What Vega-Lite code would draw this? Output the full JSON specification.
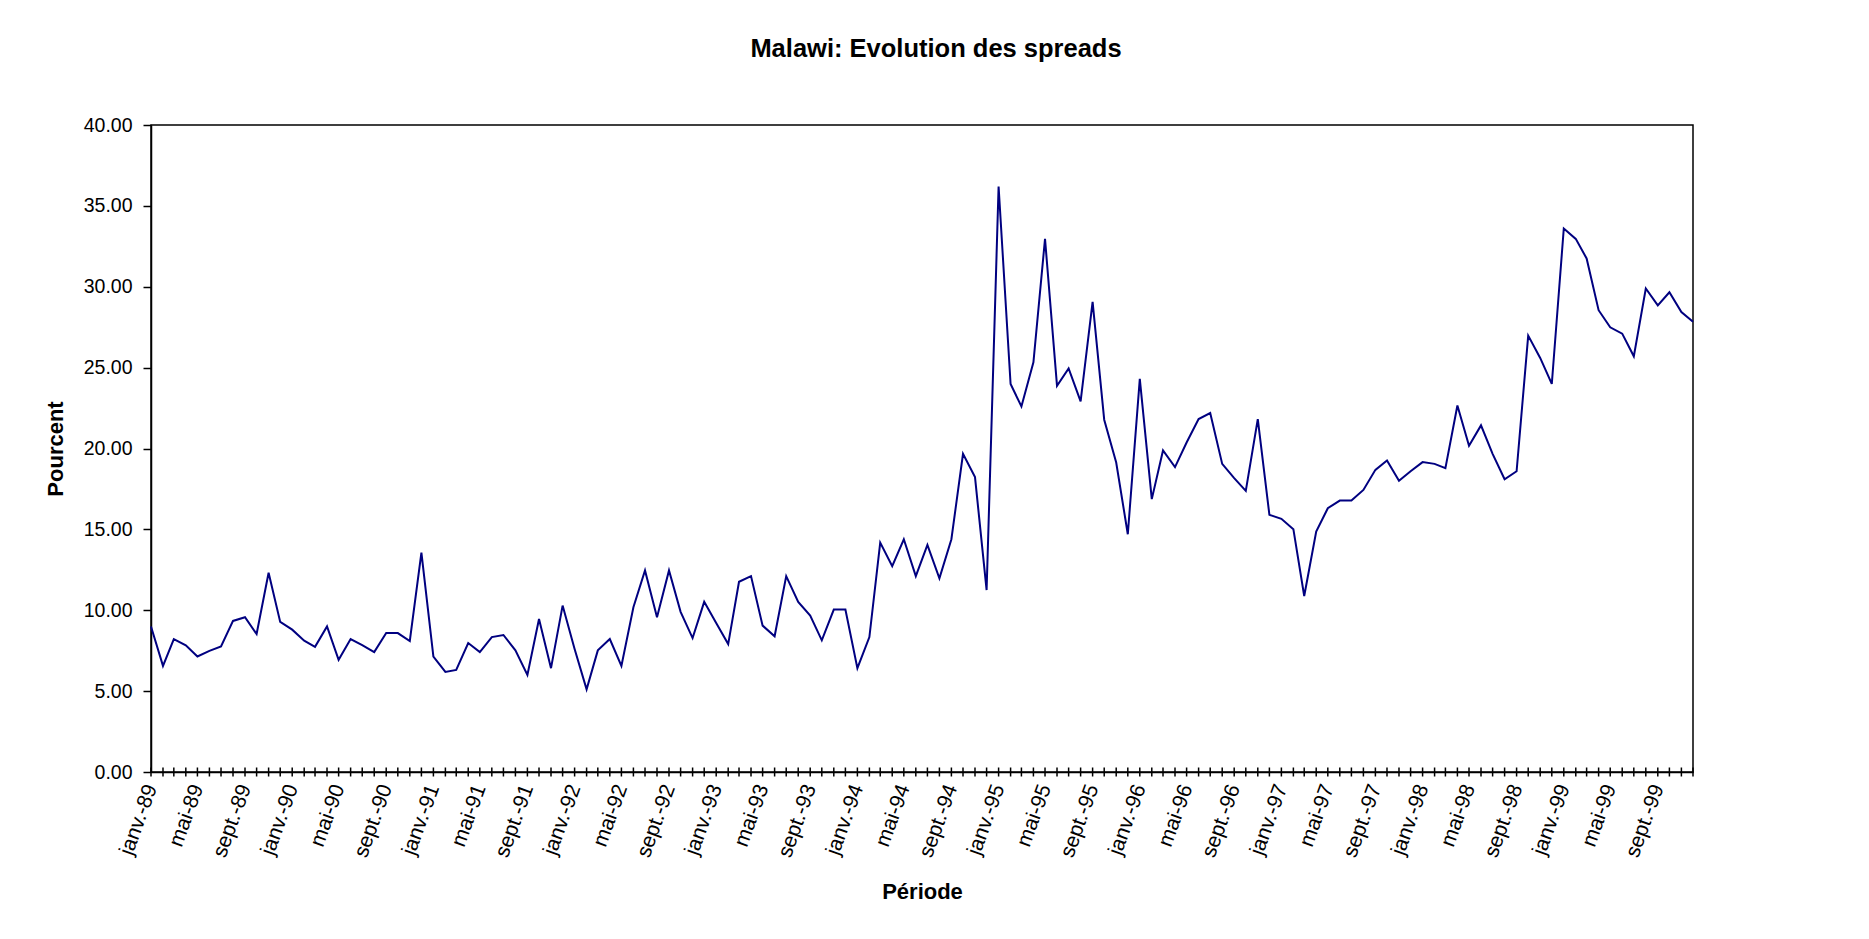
{
  "$schema": "https://vega.github.io/schema/vega-lite/v6.json",
  "width": 1542,
  "height": 647,
  "autosize": "none",
  "padding": {"left": 151, "top": 125, "right": 176, "bottom": 167},
  "background": "white",
  "title": {"text": "Malawi: Evolution des spreads", "font": "Liberation Sans", "fontSize": 25.5, "fontWeight": "bold", "color": "black", "anchor": "middle", "offset": 33, "dx": 14, "baseline": "alphabetic"},
  "config": {"view": {"stroke": "black", "strokeWidth": 1.5}, "font": "Liberation Sans"},
  "data": {"values": [
    {"date": "1989-01-01", "spread": 9.0},
    {"date": "1989-02-01", "spread": 6.56},
    {"date": "1989-03-01", "spread": 8.22},
    {"date": "1989-04-01", "spread": 7.83},
    {"date": "1989-05-01", "spread": 7.14},
    {"date": "1989-06-01", "spread": 7.49},
    {"date": "1989-07-01", "spread": 7.76},
    {"date": "1989-08-01", "spread": 9.34},
    {"date": "1989-09-01", "spread": 9.57},
    {"date": "1989-10-01", "spread": 8.53},
    {"date": "1989-11-01", "spread": 12.32},
    {"date": "1989-12-01", "spread": 9.28},
    {"date": "1990-01-01", "spread": 8.8},
    {"date": "1990-02-01", "spread": 8.12},
    {"date": "1990-03-01", "spread": 7.74},
    {"date": "1990-04-01", "spread": 9.0},
    {"date": "1990-05-01", "spread": 6.94},
    {"date": "1990-06-01", "spread": 8.22},
    {"date": "1990-07-01", "spread": 7.85},
    {"date": "1990-08-01", "spread": 7.41},
    {"date": "1990-09-01", "spread": 8.59},
    {"date": "1990-10-01", "spread": 8.59},
    {"date": "1990-11-01", "spread": 8.1},
    {"date": "1990-12-01", "spread": 13.56},
    {"date": "1991-01-01", "spread": 7.14},
    {"date": "1991-02-01", "spread": 6.19},
    {"date": "1991-03-01", "spread": 6.31},
    {"date": "1991-04-01", "spread": 7.97},
    {"date": "1991-05-01", "spread": 7.41},
    {"date": "1991-06-01", "spread": 8.34},
    {"date": "1991-07-01", "spread": 8.47},
    {"date": "1991-08-01", "spread": 7.52},
    {"date": "1991-09-01", "spread": 6.0},
    {"date": "1991-10-01", "spread": 9.46},
    {"date": "1991-11-01", "spread": 6.42},
    {"date": "1991-12-01", "spread": 10.29},
    {"date": "1992-01-01", "spread": 7.6},
    {"date": "1992-02-01", "spread": 5.11},
    {"date": "1992-03-01", "spread": 7.52},
    {"date": "1992-04-01", "spread": 8.22},
    {"date": "1992-05-01", "spread": 6.56},
    {"date": "1992-06-01", "spread": 10.19},
    {"date": "1992-07-01", "spread": 12.46},
    {"date": "1992-08-01", "spread": 9.57},
    {"date": "1992-09-01", "spread": 12.46},
    {"date": "1992-10-01", "spread": 9.9},
    {"date": "1992-11-01", "spread": 8.28},
    {"date": "1992-12-01", "spread": 10.52},
    {"date": "1993-01-01", "spread": 9.21},
    {"date": "1993-02-01", "spread": 7.91},
    {"date": "1993-03-01", "spread": 11.76},
    {"date": "1993-04-01", "spread": 12.11},
    {"date": "1993-05-01", "spread": 9.05},
    {"date": "1993-06-01", "spread": 8.39},
    {"date": "1993-07-01", "spread": 12.11},
    {"date": "1993-08-01", "spread": 10.52},
    {"date": "1993-09-01", "spread": 9.67},
    {"date": "1993-10-01", "spread": 8.14},
    {"date": "1993-11-01", "spread": 10.04},
    {"date": "1993-12-01", "spread": 10.04},
    {"date": "1994-01-01", "spread": 6.42},
    {"date": "1994-02-01", "spread": 8.34},
    {"date": "1994-03-01", "spread": 14.18},
    {"date": "1994-04-01", "spread": 12.73},
    {"date": "1994-05-01", "spread": 14.39},
    {"date": "1994-06-01", "spread": 12.11},
    {"date": "1994-07-01", "spread": 14.04},
    {"date": "1994-08-01", "spread": 11.97},
    {"date": "1994-09-01", "spread": 14.39},
    {"date": "1994-10-01", "spread": 19.67},
    {"date": "1994-11-01", "spread": 18.23},
    {"date": "1994-12-01", "spread": 11.25},
    {"date": "1995-01-01", "spread": 36.2},
    {"date": "1995-02-01", "spread": 23.99},
    {"date": "1995-03-01", "spread": 22.6},
    {"date": "1995-04-01", "spread": 25.33},
    {"date": "1995-05-01", "spread": 32.96},
    {"date": "1995-06-01", "spread": 23.88},
    {"date": "1995-07-01", "spread": 24.95},
    {"date": "1995-08-01", "spread": 22.91},
    {"date": "1995-09-01", "spread": 29.06},
    {"date": "1995-10-01", "spread": 21.78},
    {"date": "1995-11-01", "spread": 19.13},
    {"date": "1995-12-01", "spread": 14.7},
    {"date": "1996-01-01", "spread": 24.3},
    {"date": "1996-02-01", "spread": 16.87},
    {"date": "1996-03-01", "spread": 19.88},
    {"date": "1996-04-01", "spread": 18.85},
    {"date": "1996-05-01", "spread": 20.37},
    {"date": "1996-06-01", "spread": 21.82},
    {"date": "1996-07-01", "spread": 22.19},
    {"date": "1996-08-01", "spread": 19.05},
    {"date": "1996-09-01", "spread": 18.17},
    {"date": "1996-10-01", "spread": 17.38},
    {"date": "1996-11-01", "spread": 21.82},
    {"date": "1996-12-01", "spread": 15.9},
    {"date": "1997-01-01", "spread": 15.65},
    {"date": "1997-02-01", "spread": 15.01},
    {"date": "1997-03-01", "spread": 10.88},
    {"date": "1997-04-01", "spread": 14.86},
    {"date": "1997-05-01", "spread": 16.31},
    {"date": "1997-06-01", "spread": 16.78},
    {"date": "1997-07-01", "spread": 16.78},
    {"date": "1997-08-01", "spread": 17.44},
    {"date": "1997-09-01", "spread": 18.68},
    {"date": "1997-10-01", "spread": 19.26},
    {"date": "1997-11-01", "spread": 18.0},
    {"date": "1997-12-01", "spread": 18.59},
    {"date": "1998-01-01", "spread": 19.16},
    {"date": "1998-02-01", "spread": 19.05},
    {"date": "1998-03-01", "spread": 18.78},
    {"date": "1998-04-01", "spread": 22.66},
    {"date": "1998-05-01", "spread": 20.17},
    {"date": "1998-06-01", "spread": 21.43},
    {"date": "1998-07-01", "spread": 19.67},
    {"date": "1998-08-01", "spread": 18.1},
    {"date": "1998-09-01", "spread": 18.59},
    {"date": "1998-10-01", "spread": 26.98},
    {"date": "1998-11-01", "spread": 25.6},
    {"date": "1998-12-01", "spread": 23.99},
    {"date": "1999-01-01", "spread": 33.6},
    {"date": "1999-02-01", "spread": 32.96},
    {"date": "1999-03-01", "spread": 31.75},
    {"date": "1999-04-01", "spread": 28.55},
    {"date": "1999-05-01", "spread": 27.49},
    {"date": "1999-06-01", "spread": 27.1},
    {"date": "1999-07-01", "spread": 25.7},
    {"date": "1999-08-01", "spread": 29.89},
    {"date": "1999-09-01", "spread": 28.85},
    {"date": "1999-10-01", "spread": 29.66},
    {"date": "1999-11-01", "spread": 28.44},
    {"date": "1999-12-01", "spread": 27.83}
  ]},
  "layer": [
    {
      "mark": {"type": "line", "color": "#000080", "strokeWidth": 2},
      "encoding": {
        "x": {
          "field": "date", "type": "temporal", "title": "Période",
          "scale": {"type": "utc", "nice": false},
          "axis": {
            "title": "Période", "titleFontSize": 22, "titleFontWeight": "bold", "titleColor": "black",
            "titleY": 126, "titleBaseline": "alphabetic",
            "tickCount": {"interval": "month", "step": 4},
            "labelExpr": "(['janv.','févr.','mars','avr.','mai','juin','juil.','août','sept.','oct.','nov.','déc.'])[utcmonth(datum.value)] + '-' + utcFormat(datum.value, '%y')",
            "labelAngle": -70, "labelAlign": "right", "labelBaseline": "middle",
            "labelFontSize": 21, "labelPadding": 13, "labelColor": "black",
            "labelOverlap": false, "labelFlush": false, "labelBound": false,
            "ticks": false, "grid": false, "domainColor": "black", "domainWidth": 1.5
          }
        },
        "y": {
          "field": "spread", "type": "quantitative", "title": "Pourcent",
          "scale": {"domain": [0, 40], "nice": false},
          "axis": {
            "title": "Pourcent", "titleFontSize": 22, "titleFontWeight": "bold", "titleColor": "black",
            "titleX": -96, "titleY": 323.5, "titleAngle": -90, "titleAlign": "center", "titleBaseline": "middle",
            "tickCount": 8, "format": ".2f",
            "labelFontSize": 19.5, "labelPadding": 11, "labelColor": "black",
            "tickSize": 8, "tickColor": "black", "tickWidth": 1.5,
            "grid": false, "domainColor": "black", "domainWidth": 1.5
          }
        }
      }
    },
    {
      "mark": {"type": "tick", "orient": "vertical", "color": "black", "size": 9, "thickness": 1.5, "opacity": 1},
      "encoding": {
        "x": {"field": "date", "type": "temporal", "title": "Période"},
        "y": {"datum": 0, "type": "quantitative", "title": "Pourcent"}
      }
    }
  ]
}
